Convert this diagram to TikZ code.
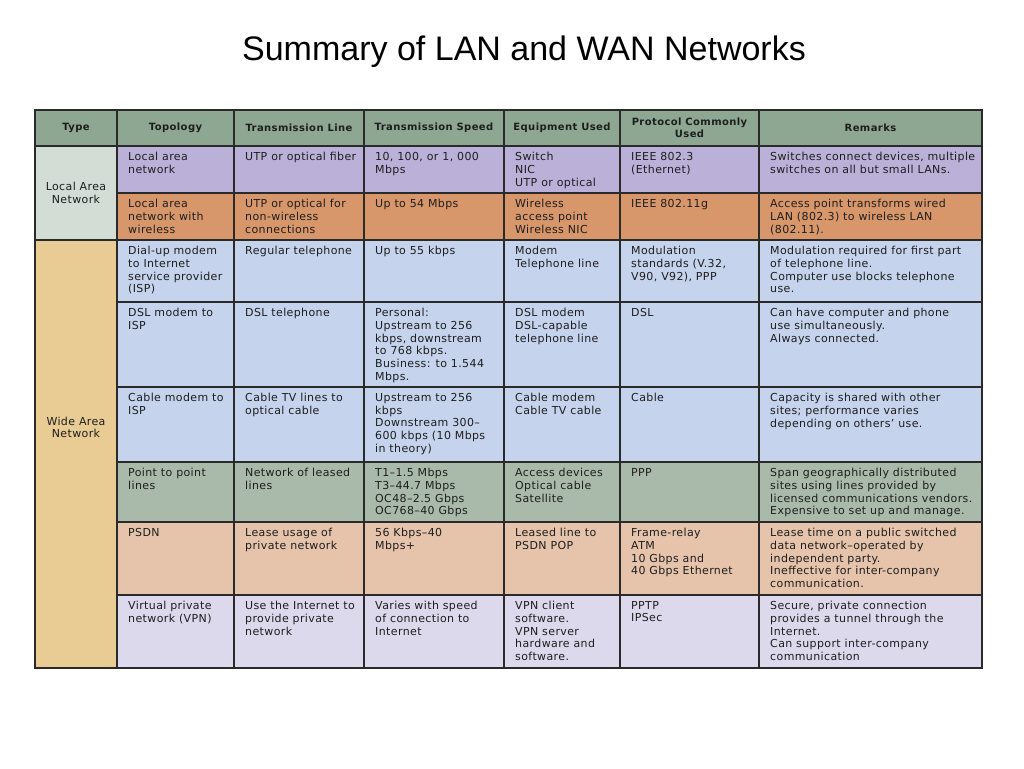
\documentclass[tikz,border=0pt]{standalone}
\usepackage{fontspec}
\setmainfont{Liberation Sans}
\newfontfamily\cellfont[LetterSpace=3.5]{DejaVu Sans}
\newfontfamily\headfont[LetterSpace=4]{DejaVu Sans}
\definecolor{hdrc}{HTML}{8EA792}
\definecolor{lanc}{HTML}{D3DDD5}
\definecolor{wanc}{HTML}{E8CC94}
\definecolor{lavc}{HTML}{BBB0D8}
\definecolor{orac}{HTML}{D8976A}
\definecolor{bluc}{HTML}{C5D3EC}
\definecolor{grnc}{HTML}{A9BAAB}
\definecolor{peac}{HTML}{E5C4AB}
\definecolor{llac}{HTML}{DCD9EC}
\definecolor{inkc}{HTML}{1E1E1E}
\definecolor{rulec}{HTML}{2A2A2A}
\tikzset{
  gridline/.style={draw=rulec, line width=1.1pt},
  txt/.style={anchor=north west, inner sep=0pt, align=left, text=inkc,
    font=\cellfont\fontsize{11}{12.75}\selectfont},
  typetxt/.style={inner sep=0pt, align=center, text=inkc,
    font=\cellfont\fontsize{11}{12.5}\selectfont},
  hd/.style={inner sep=0pt, align=center, text=inkc,
    font=\headfont\bfseries\fontsize{10}{12}\selectfont},
}
\begin{document}
\begin{tikzpicture}[x=1pt,y=-1pt]
\useasboundingbox (0,0) rectangle (1024,768);
\fill[white] (0,0) rectangle (1024,768);
% title
\node[font=\fontsize{34}{38}\selectfont] (title) at (524,52) {Summary of LAN and WAN Networks};
% fills
\fill[hdrc] (35,110) rectangle (982,146);
\fill[lanc] (35,146) rectangle (117,240);
\fill[wanc] (35,240) rectangle (117,668);
\fill[lavc] (117,146) rectangle (982,193);
\fill[orac] (117,193) rectangle (982,240);
\fill[bluc] (117,240) rectangle (982,462);
\fill[grnc] (117,462) rectangle (982,522);
\fill[peac] (117,522) rectangle (982,595);
\fill[llac] (117,595) rectangle (982,668);
% grid
\foreach \xx in {117,234,364,504,620,759} {\draw[gridline] (\xx,110) -- (\xx,668);}
\draw[gridline] (35,146) -- (982,146);
\draw[gridline] (35,240) -- (982,240);
\foreach \yy in {193,302,387,462,522,595} {\draw[gridline] (117,\yy) -- (982,\yy);}
\draw[gridline, line width=1.4pt] (35,110) rectangle (982,668);
% header
\node[hd] (hType) at (76,128) {Type};
\node[hd] (hTopo) at (175.5,128) {Topology};
\node[hd] (hLine) at (299,128) {Transmission Line};
\node[hd] (hSpeed) at (434,128) {Transmission Speed};
\node[hd] (hEquip) at (562,128) {Equipment Used};
\node[hd] (hProto) at (689.5,128) {Protocol Commonly\\Used};
\node[hd] (hRem) at (870.5,128) {Remarks};
% type column
\node[typetxt] (tLAN) at (76,193) {Local Area\\Network};
\node[typetxt] (tWAN) at (76,427.5) {Wide Area\\Network};
% row 1
\node[txt] (r1a) at (128,152) {Local area\\network};
\node[txt] (r1b) at (245,152) {UTP or optical fiber};
\node[txt] (r1c) at (375,152) {10, 100, or 1, 000\\Mbps};
\node[txt] (r1d) at (515,152) {Switch\\NIC\\UTP or optical};
\node[txt] (r1e) at (631,152) {IEEE 802.3\\(Ethernet)};
\node[txt] (r1f) at (770,152) {Switches connect devices, multiple\\switches on all but small LANs.};
% row 2
\node[txt] (r2a) at (128,199) {Local area\\network with\\wireless};
\node[txt] (r2b) at (245,199) {UTP or optical for\\non-wireless\\connections};
\node[txt] (r2c) at (375,199) {Up to 54 Mbps};
\node[txt] (r2d) at (515,199) {Wireless\\access point\\Wireless NIC};
\node[txt] (r2e) at (631,199) {IEEE 802.11g};
\node[txt] (r2f) at (770,199) {Access point transforms wired\\LAN (802.3) to wireless LAN\\(802.11).};
% row 3
\node[txt] (r3a) at (128,246) {Dial-up modem\\to Internet\\service provider\\(ISP)};
\node[txt] (r3b) at (245,246) {Regular telephone};
\node[txt] (r3c) at (375,246) {Up to 55 kbps};
\node[txt] (r3d) at (515,246) {Modem\\Telephone line};
\node[txt] (r3e) at (631,246) {Modulation\\standards (V.32,\\V90, V92), PPP};
\node[txt] (r3f) at (770,246) {Modulation required for first part\\of telephone line.\\Computer use blocks telephone\\use.};
% row 4
\node[txt] (r4a) at (128,308) {DSL modem to\\ISP};
\node[txt] (r4b) at (245,308) {DSL telephone};
\node[txt] (r4c) at (375,308) {Personal:\\Upstream to 256\\kbps, downstream\\to 768 kbps.\\Business: to 1.544\\Mbps.};
\node[txt] (r4d) at (515,308) {DSL modem\\DSL-capable\\telephone line};
\node[txt] (r4e) at (631,308) {DSL};
\node[txt] (r4f) at (770,308) {Can have computer and phone\\use simultaneously.\\Always connected.};
% row 5
\node[txt] (r5a) at (128,393) {Cable modem to\\ISP};
\node[txt] (r5b) at (245,393) {Cable TV lines to\\optical cable};
\node[txt] (r5c) at (375,393) {Upstream to 256\\kbps\\Downstream 300–\\600 kbps (10 Mbps\\in theory)};
\node[txt] (r5d) at (515,393) {Cable modem\\Cable TV cable};
\node[txt] (r5e) at (631,393) {Cable};
\node[txt] (r5f) at (770,393) {Capacity is shared with other\\sites; performance varies\\depending on others’ use.};
% row 6
\node[txt] (r6a) at (128,468) {Point to point\\lines};
\node[txt] (r6b) at (245,468) {Network of leased\\lines};
\node[txt] (r6c) at (375,468) {T1–1.5 Mbps\\T3–44.7 Mbps\\OC48–2.5 Gbps\\OC768–40 Gbps};
\node[txt] (r6d) at (515,468) {Access devices\\Optical cable\\Satellite};
\node[txt] (r6e) at (631,468) {PPP};
\node[txt] (r6f) at (770,468) {Span geographically distributed\\sites using lines provided by\\licensed communications vendors.\\Expensive to set up and manage.};
% row 7
\node[txt] (r7a) at (128,528) {PSDN};
\node[txt] (r7b) at (245,528) {Lease usage of\\private network};
\node[txt] (r7c) at (375,528) {56 Kbps–40\\Mbps+};
\node[txt] (r7d) at (515,528) {Leased line to\\PSDN POP};
\node[txt] (r7e) at (631,528) {Frame-relay\\ATM\\10 Gbps and\\40 Gbps Ethernet};
\node[txt] (r7f) at (770,528) {Lease time on a public switched\\data network–operated by\\independent party.\\Ineffective for inter-company\\communication.};
% row 8
\node[txt] (r8a) at (128,601) {Virtual private\\network (VPN)};
\node[txt] (r8b) at (245,601) {Use the Internet to\\provide private\\network};
\node[txt] (r8c) at (375,601) {Varies with speed\\of connection to\\Internet};
\node[txt] (r8d) at (515,601) {VPN client\\software.\\VPN server\\hardware and\\software.};
\node[txt] (r8e) at (631,601) {PPTP\\IPSec};
\node[txt] (r8f) at (770,601) {Secure, private connection\\provides a tunnel through the\\Internet.\\Can support inter-company\\communication};
\end{tikzpicture}
\end{document}
